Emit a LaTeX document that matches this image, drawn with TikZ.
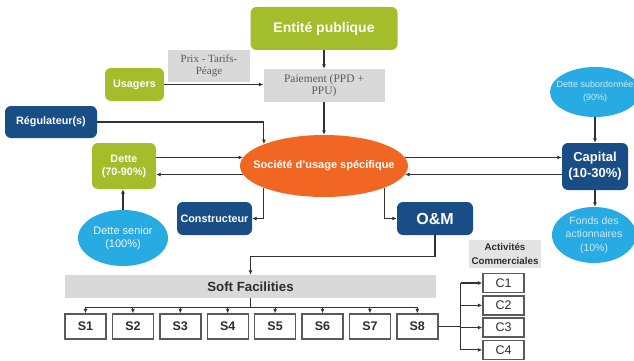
\documentclass[tikz,border=0pt]{standalone}
\usepackage{fontspec}
\setmainfont{Liberation Sans}
\newfontfamily\serifface{Liberation Serif}
\usetikzlibrary{arrows.meta,shapes.geometric}

\definecolor{leaf}{RGB}{163,190,42}
\definecolor{navy}{RGB}{24,77,134}
\definecolor{flame}{RGB}{240,102,34}
\definecolor{sky}{RGB}{40,171,226}
\definecolor{panel}{RGB}{217,217,217}
\definecolor{wire}{RGB}{50,50,50}
\definecolor{ink}{RGB}{45,45,45}
\definecolor{softink}{RGB}{90,90,90}
\definecolor{paleink}{RGB}{205,233,247}

\newcommand{\fs}[2]{\fontsize{#1}{#2}\selectfont}

\tikzset{
  box/.style={rounded corners=6pt, inner sep=0pt, align=center, text=white,
              font=\bfseries\fs{10.8}{12.6}},
  greenbox/.style={box, fill=leaf},
  bluebox/.style={box, fill=navy},
  graybox/.style={fill=panel, inner sep=0pt, align=center},
  oval/.style={ellipse, fill=sky, inner sep=0pt},
  itembox/.style={draw=softink, line width=1.4pt, fill=white, inner sep=0pt,
                  minimum width=41pt, text=ink},
  line/.style={draw=wire, line width=1.1pt},
  conn/.style={line, -{Latex[length=4.5pt,width=4pt]}},
}

\begin{document}
\begin{tikzpicture}[x=1pt,y=-1pt]
\useasboundingbox (0,0) rectangle (634,361);

% top row: public entity, users, payment
\node[greenbox, minimum width=147pt, minimum height=43pt, font=\bfseries\fs{14}{16}]
  (ent) at (324,28.5) {Entité publique};
\node[graybox, minimum width=82pt, minimum height=31pt, text=softink,
      font=\serifface\fs{11}{12}] (prix) at (209,66) {Prix - Tarifs-\\Péage};
\node[greenbox, minimum width=59pt, minimum height=33pt] (usa) at (134.5,84.5) {Usagers};
\node[graybox, minimum width=121pt, minimum height=33pt, text=softink,
      font=\serifface\fs{11.5}{11.5}] (pay) at (324,85.5) {Paiement (PPD +\\PPU)};
\node[bluebox, minimum width=92pt, minimum height=32pt] (reg) at (51,122) {Régulateur(s)};

% central company
\node[ellipse, fill=flame, inner sep=0pt, minimum width=168pt, minimum height=62pt,
      label={[text=white, font=\bfseries\fs{11}{13}]center:Société d'usage spécifique}]
  (soc) at (324,166) {};

% financing side
\node[greenbox, minimum width=64pt, minimum height=46pt, font=\bfseries\fs{10.8}{13}]
  (dette) at (124,166) {Dette\\(70-90\%)};
\node[oval, minimum width=90pt, minimum height=56pt,
      label={[text=white!92!sky, align=center, font=\fs{11}{12.5}]center:Dette senior\\(100\%)}]
  (senior) at (123,238) {};
\node[bluebox, minimum width=66pt, minimum height=47pt, font=\bfseries\fs{13}{16}]
  (cap) at (595,166.5) {Capital\\(10-30\%)};
\node[oval, minimum width=90pt, minimum height=50pt,
      label={[text=paleink, align=center, font=\fs{9}{13}]center:Dette subordonnée\\(90\%)}]
  (sub) at (595,92) {};
\node[oval, minimum width=84pt, minimum height=56pt,
      label={[text=paleink, align=center, font=\fs{10.5}{13.5}]center:Fonds des\\actionnaires\\(10\%)}]
  (fonds) at (594,235) {};

% contractors
\node[bluebox, minimum width=75pt, minimum height=33pt] (cons) at (214.5,218.5) {Constructeur};
\node[bluebox, minimum width=76pt, minimum height=33pt, font=\bfseries\fs{16}{18}]
  (om) at (435,218.5) {O\&M};

% soft facilities and commercial activities
\node[graybox, minimum width=371pt, minimum height=23pt, text=ink,
      font=\bfseries\fs{13.3}{14}] (soft) at (250.5,286.5) {Soft Facilities};
\node[graybox, fill=panel!70!white, minimum width=72pt, minimum height=28pt, text=ink,
      font=\bfseries\fs{9.8}{14}] (act) at (505,253.5) {Activités\\Commerciales};

\foreach \i in {1,...,8}
  \node[itembox, minimum height=25pt, font=\bfseries\fs{12.5}{14}]
    (s\i) at ({85.5+47.4*(\i-1)},326.5) {S\i};
\foreach \j in {1,...,4}
  \node[itembox, minimum height=19pt, font=\fs{12.5}{14}]
    (c\j) at (503.5,{283+22.3*(\j-1)}) {C\j};

% connectors: top
\draw[conn] (ent.south) -- (pay.north);
\draw[conn] (usa.east) -- (usa.east -| pay.west);
\draw[conn] (pay.south) -- (soc.north);
\draw[conn] (reg.east) -| (soc.160);

% connectors: debt and equity flows
\draw[conn] (dette.east |- soc.174) -- (soc.174);
\draw[conn] (soc.186) -- (dette.east |- soc.186);
\draw[conn] (soc.6) -- (soc.6 -| cap.west);
\draw[conn] (cap.west |- soc.354) -- (soc.354);
\draw[conn] (senior.north) -- (senior.north |- dette.south);
\draw[conn] (sub.south) -- (cap.north);
\draw[conn] (cap.south) -- (cap.south |- fonds.north);

% connectors: contractors
\draw[conn] (soc.200) |- (cons.east);
\draw[conn] (soc.340) |- (om.west);
\draw[conn] (om.south) -- ++(0,21) -| (soft.north);

% soft facilities breakdown
\draw[line] (soft.south) -- ++(0,9) coordinate (hub);
\draw[line] (s1.north |- hub) -- (s8.north |- hub);
\foreach \i in {1,...,8}
  \draw[conn] (s\i.north |- hub) -- (s\i.north);

% commercial activities fork
\path (s8.east) ++(22,0) coordinate (fork);
\draw[line] (s8.east) -- (fork);
\draw[line] (fork |- c1.west) -- (fork |- c4.west);
\foreach \j in {1,...,4}
  \draw[conn] (fork |- c\j.west) -- (c\j.west);
\end{tikzpicture}
\end{document}
